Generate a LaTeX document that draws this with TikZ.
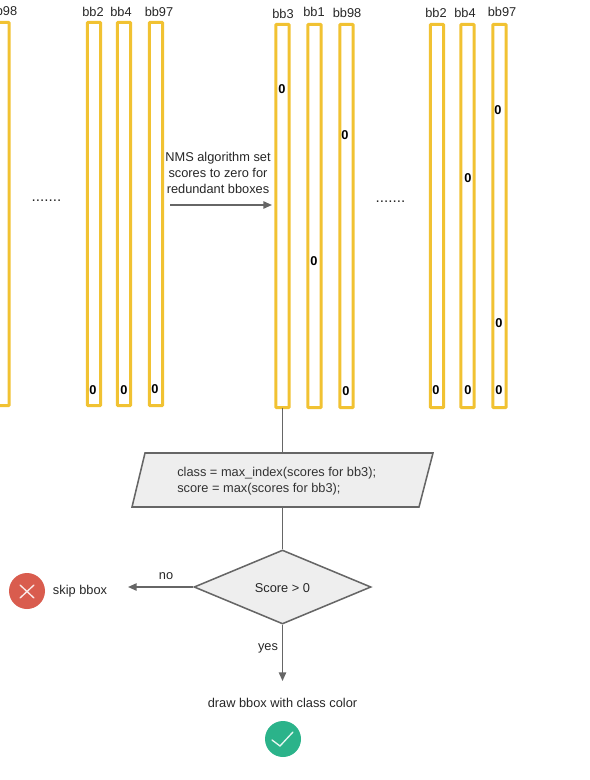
\documentclass[tikz,border=0pt]{standalone}
\usepackage{fontspec}
\setmainfont{Liberation Sans}
\usetikzlibrary{shapes.geometric,arrows.meta}
\definecolor{ybox}{HTML}{F1C232}
\definecolor{lineg}{HTML}{666666}
\definecolor{fillg}{HTML}{EEEEEE}
\definecolor{redc}{HTML}{D95C4E}
\definecolor{greenc}{HTML}{2BB38A}
\tikzset{
  txt/.style={font=\fontsize{9.6pt}{12pt}\selectfont,inner sep=0pt,text=black!85,yshift=-0.75pt},
  dotsrow/.style={font=\fontsize{11.4pt}{12pt}\selectfont,inner sep=0pt,text=black!85},
  zero/.style={font=\fontsize{9.6pt}{11pt}\selectfont\bfseries,inner sep=0pt},
  bbar/.style={draw=ybox,line width=2.3pt,rounded corners=0.6pt,minimum width=10pt,minimum height=287.5pt,inner sep=0pt,outer sep=0pt},
  conn/.style={draw=lineg,line width=1.15pt},
  arr/.style={conn,-{Triangle[length=6.5pt,width=5.5pt,fill=lineg]}},
  glyphline/.style={line width=1pt,line cap=round},
  shapeg/.style={draw=lineg,fill=fillg,line width=1.15pt},
}
\begin{document}
\begin{tikzpicture}[x=0.75pt,y=-0.75pt]
\useasboundingbox (0,0) rectangle (589,780);
\clip (0,0) rectangle (589,780);
% left group
\node[bbar] (L98) at (2.5,214) {};
\node[bbar] (L2) at (94,214) {};
\node[bbar] (L4) at (124,214) {};
\node[bbar] (L97) at (156,214) {};
\node[txt] (tL98) at (3,10) {bb98};
\node[txt] at (93,11) {bb2};
\node[txt] at (121,11) {bb4};
\node[txt] at (159,10.5) {bb97};
\node[zero] at (93,390) {0};
\node[zero] at (124,390) {0};
\node[zero] at (155,389.5) {0};
\node[dotsrow] at (46.5,201) {.......};
% right group
\node[bbar] (R3) at (282.5,216) {};
\node[bbar] (R1) at (314.5,216) {};
\node[bbar] (R98) at (346.5,216) {};
\node[bbar] (R2) at (437,216) {};
\node[bbar] (R4) at (467.5,216) {};
\node[bbar] (R97) at (499.5,216) {};
\node[txt] at (283,13) {bb3};
\node[txt] at (314,11) {bb1};
\node[txt] at (347,12) {bb98};
\node[txt] at (436,12) {bb2};
\node[txt] at (465,12) {bb4};
\node[txt] at (502,11) {bb97};
\node[zero] at (282,89) {0};
\node[zero] at (314,261) {0};
\node[zero] at (345,135) {0};
\node[zero] at (346,391) {0};
\node[zero] at (436,390) {0};
\node[zero] at (468,178) {0};
\node[zero] at (468,390) {0};
\node[zero] at (498,110) {0};
\node[zero] at (499,323) {0};
\node[zero] at (499,390) {0};
\node[dotsrow] at (390.5,202) {.......};
% NMS label and arrow
\node[txt,align=center] (nms) at (218,172) {NMS algorithm set\\scores to zero for\\redundant bboxes};
\coordinate (as) at (170,205);
\coordinate (ae) at (272,205);
\draw[arr] (as) -- (ae);
% parallelogram
\draw[shapeg] (145,453) -- (433,453) -- (419,507) -- (132,507) -- cycle;
\node[txt,align=left,anchor=west,text=black!80] (calctxt) at (177,480) {class = max\_index(scores for bb3);\\score = max(scores for bb3);};
\coordinate (ptop) at (282.5,453);
\coordinate (pbot) at (282.5,507);
\node[shapeg,diamond,aspect=2.39,minimum width=132.75pt,minimum height=55.5pt,inner sep=0pt] (dec) at (282.5,587) {};
\node[txt] (dectxt) at (282.5,587) {Score > 0};
\draw[conn] (R3.south) -- (ptop);
\draw[conn] (pbot) -- (dec.north);
\coordinate (skipend) at (128,587);
\coordinate (yesend) at (282.5,681);
\draw[arr] (dec.west) -- (skipend);
\draw[arr] (dec.south) -- (yesend);
\node[txt] at (166,575) {no};
\node[txt] at (268,647) {yes};
\node[txt] (skip) at (80,590) {skip bbox};
\node[txt] (drawt) at (282.5,702) {draw bbox with class color};
% icons
\fill[redc] (27,591) circle[radius=18];
\draw[glyphline,draw=white!88!redc] (20,585) -- (34,598) (34,585) -- (20,598);
\fill[greenc] (283,739) circle[radius=18];
\draw[glyphline,draw=white!88!greenc] (272,740) -- (280,746) -- (293,732);
\end{tikzpicture}
\end{document}
